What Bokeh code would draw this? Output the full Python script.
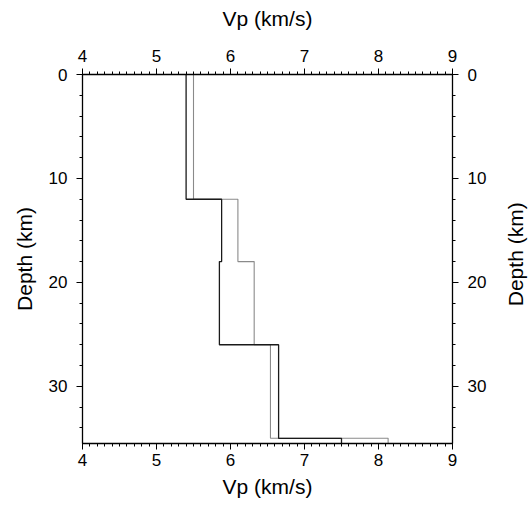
from bokeh.plotting import figure
from bokeh.layouts import row
from bokeh.models import LinearAxis, Range1d, SingleIntervalTicker
from bokeh.core.properties import value
from bokeh.embed import file_html
from bokeh.resources import INLINE

# Layer boundaries (depth, km)
depth_bounds = [0, 12, 18, 26, 35, 35.5]
# Vp of each layer (km/s)
vp_model_dark = [5.40, 5.88, 5.85, 6.65, 7.50]
vp_model_light = [5.50, 6.10, 6.32, 6.54, 8.13]

x_ticks_label = "Vp (km/s)"
y_ticks_label = "Depth (km)"

def profile(vals):
    xs, ys = [], []
    for i, v in enumerate(vals):
        xs += [v, v]
        ys += [depth_bounds[i], depth_bounds[i + 1]]
    return xs, ys

FONT = "Liberation Sans"

p = figure(frame_width=370, frame_height=369, output_backend="svg", toolbar_location=None,
           x_range=Range1d(4, 9), y_range=Range1d(35.5, 0),
           min_border_left=82, min_border_right=40, min_border_top=74, min_border_bottom=68,
           x_axis_location="below", y_axis_location="left")
p.xgrid.visible = False
p.ygrid.visible = False
p.outline_line_color = "black"
p.background_fill_color = "white"
p.border_fill_color = "white"

xa, ya = profile(vp_model_light)
p.line(xa, ya, line_color="#8a8a8a", line_width=1.1)
xb, yb = profile(vp_model_dark)
p.line(xb, yb, line_color="#1a1a1a", line_width=1.3)

top = LinearAxis()
right = LinearAxis()
p.add_layout(top, "above")
p.add_layout(right, "right")

for ax in p.xaxis:
    ax.ticker = SingleIntervalTicker(interval=1, num_minor_ticks=10)
    ax.axis_label = x_ticks_label
for ax in p.yaxis:
    ax.ticker = SingleIntervalTicker(interval=10, num_minor_ticks=5)
p.left[0].axis_label = y_ticks_label

for ax in p.xaxis + p.yaxis:
    ax.axis_line_color = "black"
    ax.axis_line_width = 1.3
    ax.major_tick_line_color = "black"
    ax.minor_tick_line_color = "black"
    ax.major_tick_in = 0
    ax.major_tick_out = 6
    ax.minor_tick_in = 0
    ax.minor_tick_out = 3
    ax.major_label_text_font = FONT
    ax.major_label_text_font_size = "17px"
    ax.major_label_text_color = "black"
    ax.major_label_standoff = 9
    ax.axis_label_text_font = FONT
    ax.axis_label_text_font_size = "21px"
    ax.axis_label_text_font_style = "normal"
    ax.axis_label_text_color = "black"
    ax.axis_label_standoff = 10

top.major_label_standoff = 7
top.axis_label_standoff = 17
p.below[0].major_label_standoff = 4
p.below[0].axis_label_standoff = 6

# Narrow companion panel holding the right-hand title (reads bottom to top)
p2 = figure(width=40, height=511, output_backend="svg", toolbar_location=None,
            x_range=Range1d(0, 40), y_range=Range1d(511, 0),
            min_border=0, x_axis_location=None, y_axis_location=None)
p2.xgrid.visible = False
p2.ygrid.visible = False
p2.outline_line_color = None
p2.border_fill_color = "white"
p2.text(x=[23], y=[249], text=[y_ticks_label], angle=90, angle_units="deg",
        text_align="center", text_baseline="middle",
        text_font=value(FONT), text_font_size=value("21px"), text_color="black")

layout = row(p, p2, spacing=0)
open("out.html", "w").write(file_html(layout, INLINE))
